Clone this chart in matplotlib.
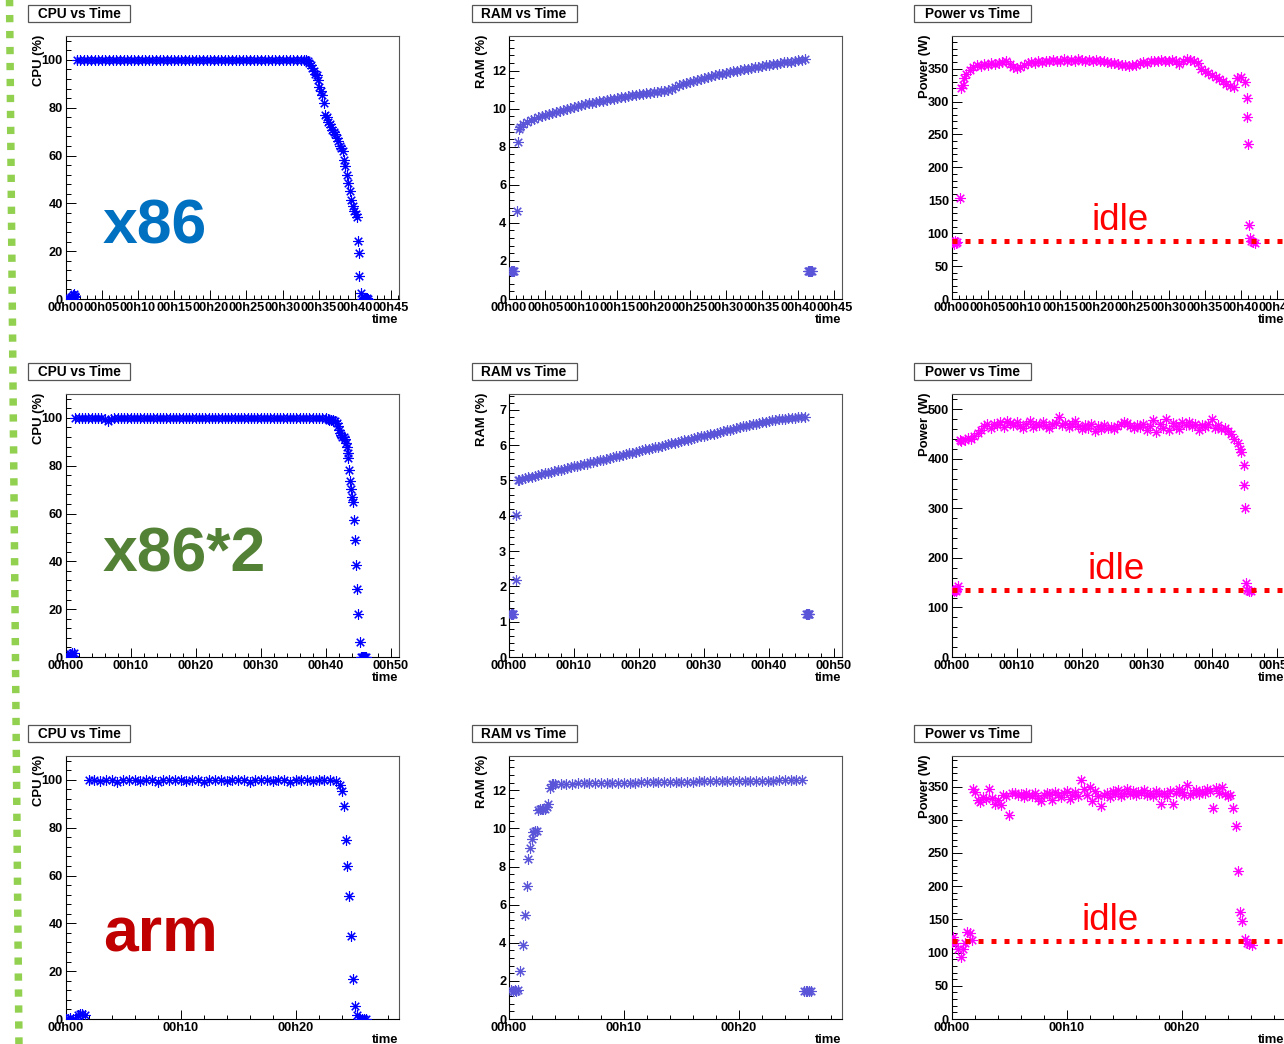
import numpy as np
import matplotlib.pyplot as plt
from matplotlib.ticker import MultipleLocator, FuncFormatter
from matplotlib.patches import Rectangle
from matplotlib.lines import Line2D

plt.rcParams['font.family'] = ['Liberation Sans', 'DejaVu Sans']
plt.rcParams['font.weight'] = 'bold'

W, H = 1284, 1044

# ---------------- x86 ----------------
cpu_x86_start = [(0.3, 0.0), (0.45, 0.5), (0.6, 0.0), (0.75, 1.0), (0.9, 0.4),
                 (1.0, 1.6), (1.1, 0.8), (1.2, 2.0), (1.3, 1.2)]
cpu_x86_load = [100, 100, 100, 100, 100, 100, 100, 100, 100, 100, 100, 100, 100, 100, 100, 100,
                100, 100, 100, 100, 100, 100, 100, 100, 100, 100, 100, 100, 100, 100, 100, 100,
                100, 100, 100, 100, 100, 100, 100, 100, 100, 100, 100, 100, 100, 100, 100, 100,
                100, 100, 100, 100, 100, 100, 100, 100, 100, 100, 100, 100, 100, 100, 100, 100]
cpu_x86_drop = [(33.3, 100), (33.5, 99.5), (33.7, 98.7), (33.9, 97.8), (34.1, 96.8),
                (34.3, 95.5), (34.5, 94.2), (34.7, 93.5), (34.9, 91.5), (35.1, 88.5),
                (35.3, 87), (35.5, 85.5), (35.7, 82), (35.9, 77), (36.1, 76),
                (36.3, 74), (36.5, 73), (36.7, 72), (36.9, 70.5), (37.1, 70),
                (37.3, 69), (37.5, 67.5), (37.7, 66), (37.9, 64), (38.1, 63),
                (38.3, 62), (38.5, 58), (38.7, 55.5), (38.9, 52), (39.1, 48.5),
                (39.3, 45), (39.5, 41.5), (39.7, 39), (39.9, 37), (40.1, 35.5),
                (40.25, 34.5), (40.4, 24.4), (40.5, 19.1), (40.6, 9.5), (40.9, 2.4)]
cpu_x86_tail = [(41.05, 0.0), (41.2, 0.4), (41.35, 0.0), (41.5, 0.0), (41.65, 0.3), (41.8, 0.0)]

ram_x86_start = [(0.3, 1.45), (0.4, 1.45), (0.5, 1.45), (0.6, 1.45), (0.7, 1.45),
                 (1.1, 4.6), (1.2, 8.25), (1.35, 8.95)]
ram_x86_load = [9.05, 9.2, 9.3, 9.4, 9.48, 9.55, 9.62, 9.68, 9.73, 9.79,
                9.84, 9.9, 9.95, 10.0, 10.06, 10.1, 10.15, 10.2, 10.24, 10.28,
                10.32, 10.35, 10.38, 10.42, 10.45, 10.49, 10.53, 10.57, 10.61, 10.64,
                10.67, 10.7, 10.73, 10.76, 10.79, 10.82, 10.85, 10.87, 10.9, 10.92,
                10.95, 10.98, 11.03, 11.12, 11.22, 11.28, 11.35, 11.41, 11.46, 11.51,
                11.56, 11.61, 11.66, 11.7, 11.75, 11.8, 11.84, 11.88, 11.92, 11.96,
                12.0, 12.03, 12.07, 12.1, 12.14, 12.18, 12.21, 12.25, 12.28, 12.31,
                12.34, 12.37, 12.4, 12.43, 12.45, 12.48, 12.51, 12.54, 12.57, 12.6]
ram_x86_tail = [(41.35, 1.45), (41.45, 1.45), (41.55, 1.45), (41.65, 1.45), (41.75, 1.45), (41.85, 1.45)]

pwr_x86_start = [(0.15, 86), (0.3, 84), (0.45, 88), (0.6, 85), (0.8, 87),
                 (1.15, 154), (1.3, 321), (1.5, 325), (1.75, 336)]
pwr_x86_load = [342, 348, 353, 355, 354, 357, 355, 358, 357, 359,
                360, 362, 357, 352, 351, 353, 356, 359, 360, 358,
                361, 360, 362, 361, 363, 361, 362, 364, 362, 363,
                362, 364, 363, 362, 363, 361, 363, 362, 361, 360,
                358, 359, 357, 355, 356, 354, 356, 355, 358, 360,
                359, 361, 362, 361, 363, 362, 361, 363, 362, 357,
                362, 364, 363, 361, 358, 350, 347, 343, 340, 337,
                334, 331, 327, 324, 322, 336, 337, 329]
pwr_x86_drop = [(40.8, 306), (40.9, 276), (41.0, 235), (41.1, 113), (41.25, 92),
                (41.45, 88), (41.7, 86), (42.0, 85)]
idle_x86 = 88

# ---------------- x86*2 ----------------
cpu_x2_start = [(0.2, 0.0), (0.35, 0.5), (0.5, 0.0), (0.65, 1.2), (0.8, 0.4),
                (0.95, 1.8), (1.1, 0.6), (1.25, 1.5)]
cpu_x2_load = [100, 100, 100, 100, 100, 100, 100, 100, 100, 99.6, 98.8, 99.4, 100,
               100, 100, 100, 100, 100, 100, 100, 100, 100, 100, 100, 100, 100,
               100, 100, 100, 100, 100, 100, 100, 100, 100, 100, 100, 100, 100,
               100, 100, 100, 100, 100, 100, 100, 100, 100, 100, 100, 100, 100,
               100, 100, 100, 100, 100, 100, 100, 100, 100, 100, 100, 100, 100,
               100, 100, 100, 100, 100, 100, 100, 100, 100, 100, 100, 100, 100]
cpu_x2_drop = [(40.3, 99.6), (40.6, 99.3), (40.9, 99.2), (41.2, 99), (41.5, 98.5),
               (41.7, 98), (41.9, 96.5), (42.0, 95), (42.2, 93.8), (42.4, 93),
               (42.6, 92.2), (42.8, 92), (43.0, 91), (43.15, 89.5), (43.3, 88),
               (43.4, 85.5), (43.5, 83.3), (43.65, 78.4), (43.8, 73.5), (43.95, 70.3),
               (44.1, 67), (44.2, 65), (44.4, 57.1), (44.6, 49), (44.75, 38.5),
               (44.9, 28.3), (45.05, 17.9), (45.25, 6.3)]
cpu_x2_tail = [(45.5, 0.0), (45.65, 0.0), (45.8, 0.0), (45.95, 0.0), (46.1, 0.0), (46.25, 0.0)]

ram_x2_start = [(0.25, 1.21), (0.35, 1.21), (0.45, 1.21), (0.55, 1.21), (0.65, 1.21),
                (1.05, 2.18), (1.15, 4.03), (1.35, 5.0)]
ram_x2_load = [5.02, 5.05, 5.07, 5.09, 5.11, 5.14, 5.16, 5.18, 5.2, 5.22,
               5.24, 5.27, 5.29, 5.31, 5.33, 5.35, 5.38, 5.4, 5.42, 5.44,
               5.46, 5.48, 5.51, 5.53, 5.55, 5.57, 5.59, 5.61, 5.64, 5.66,
               5.68, 5.7, 5.72, 5.74, 5.77, 5.79, 5.81, 5.83, 5.85, 5.88,
               5.9, 5.92, 5.94, 5.96, 5.98, 6.01, 6.03, 6.05, 6.07, 6.09,
               6.11, 6.14, 6.16, 6.18, 6.2, 6.22, 6.25, 6.27, 6.29, 6.31,
               6.33, 6.35, 6.38, 6.4, 6.42, 6.44, 6.46, 6.48, 6.51, 6.53,
               6.55, 6.57, 6.59, 6.61, 6.63, 6.65, 6.67, 6.69, 6.7, 6.72,
               6.73, 6.74, 6.75, 6.76, 6.77, 6.78, 6.79, 6.8, 6.81]
ram_x2_tail = [(45.75, 1.21), (45.85, 1.21), (45.95, 1.21), (46.05, 1.21), (46.15, 1.21), (46.25, 1.21)]

pwr_x2_start = [(0.15, 135), (0.3, 133), (0.45, 136), (0.6, 134), (0.8, 137),
                (1.0, 144), (1.25, 438)]
pwr_x2_load = [436, 438, 442, 440, 447, 452, 458, 466, 470, 462,
               471, 468, 474, 465, 476, 472, 469, 475, 467, 462,
               470, 476, 465, 471, 468, 474, 466, 463, 470, 473,
               484, 468, 472, 465, 470, 477, 466, 460, 468, 463,
               471, 456, 466, 461, 468, 462, 465, 460, 467, 470,
               474, 472, 466, 462, 469, 464, 471, 458, 467, 478,
               455, 470, 463, 481, 458, 472, 466, 460, 474, 469,
               475, 467, 471, 459, 468, 464, 470, 481, 462, 468,
               460, 463, 457, 450, 440, 432]
pwr_x2_drop = [(44.35, 419), (44.6, 414), (44.95, 388), (45.05, 348), (45.15, 300),
               (45.3, 150), (45.45, 135), (45.7, 134), (46.0, 133)]
idle_x2 = 135

# ---------------- arm ----------------
cpu_arm_start = [(0.0, 0.0), (0.2, 0.0), (0.4, 0.3), (0.6, 0.0), (0.8, 0.0),
                 (1.05, 1.8), (1.25, 2.0), (1.45, 2.0), (1.65, 1.8)]
cpu_arm_load = [100, 100, 99.4, 100, 100, 99.2, 100, 100, 100, 99.5, 100,
                100, 99.3, 100, 100, 100, 100, 99.4, 100, 100, 99.2, 100,
                100, 100, 99.5, 100, 100, 100, 99.3, 100, 100, 100, 99.4,
                100, 100, 99.2, 100, 100, 100, 99.4, 100, 100, 100, 99.5]
cpu_arm_drop = [(23.85, 98.0), (24.06, 95.3), (24.2, 89.0), (24.35, 75.0), (24.5, 63.8),
                (24.67, 51.3), (24.8, 34.8), (25.0, 16.6), (25.2, 5.4), (25.36, 1.7)]
cpu_arm_tail = [(25.5, 0.0), (25.65, 0.0), (25.8, 0.0), (25.95, 0.0), (26.1, 0.0)]

ram_arm_start = [(0.2, 1.5), (0.35, 1.48), (0.5, 1.5), (0.65, 1.47), (0.8, 1.5),
                 (0.95, 2.53), (1.24, 3.88), (1.39, 5.45), (1.53, 6.99), (1.68, 8.38),
                 (1.82, 8.98), (1.97, 9.43), (2.1, 9.8), (2.25, 9.87), (2.4, 9.85),
                 (2.54, 10.99), (2.69, 11.04), (2.84, 11.0), (2.98, 11.02), (3.12, 11.04),
                 (3.27, 11.1), (3.41, 11.27), (3.55, 12.14), (3.7, 12.31), (3.85, 12.33)]
ram_arm_load = [12.33, 12.34, 12.33, 12.35, 12.36, 12.36, 12.37, 12.37, 12.38, 12.38,
                12.38, 12.39, 12.39, 12.4, 12.4, 12.42, 12.43, 12.43, 12.44, 12.44,
                12.45, 12.45, 12.45, 12.46, 12.46, 12.47, 12.48, 12.49, 12.49, 12.5,
                12.5, 12.5, 12.5, 12.5, 12.5, 12.51, 12.51, 12.51, 12.51, 12.52,
                12.55, 12.56, 12.55, 12.53]
ram_arm_tail = [(25.65, 1.48), (25.8, 1.48), (25.95, 1.48), (26.1, 1.48), (26.25, 1.48)]

pwr_arm_start = [(0.05, 116), (0.15, 124), (0.3, 114), (0.55, 106), (0.85, 93),
                 (1.0, 106), (1.2, 115), (1.35, 131), (1.55, 129), (1.75, 119), (1.87, 346)]
pwr_arm_load = [342, 329, 326, 335, 331, 346, 333, 324, 329, 322,
                338, 336, 307, 340, 341, 337, 339, 335, 340, 338,
                336, 341, 333, 328, 337, 341, 339, 330, 342, 337,
                335, 340, 344, 331, 338, 342, 336, 360, 347, 338,
                349, 328, 344, 336, 321, 338, 341, 335, 343, 339,
                345, 336, 341, 347, 339, 343, 337, 342, 340, 345,
                338, 341, 336, 343, 339, 324, 341, 336, 344, 324,
                340, 346, 342, 338, 352, 337, 341, 345, 339, 343,
                341, 347, 344, 317, 348, 340, 350, 339, 336, 337,
                317, 290]
pwr_arm_drop = [(24.9, 223), (25.07, 161), (25.3, 148), (25.5, 121), (25.7, 115),
                (25.9, 113), (26.1, 112)]
idle_arm = 118


def series(start, t0, step, load, end):
    pts = list(start) + [(t0 + step * i, v) for i, v in enumerate(load)] + list(end)
    return np.array(pts, dtype=float)


cpu = [series(cpu_x86_start, 1.5, 0.5, cpu_x86_load, cpu_x86_drop + cpu_x86_tail),
       series(cpu_x2_start, 1.5, 0.5, cpu_x2_load, cpu_x2_drop + cpu_x2_tail),
       series(cpu_arm_start, 2.0, 0.5, cpu_arm_load, cpu_arm_drop + cpu_arm_tail)]
ram = [series(ram_x86_start, 1.5, 0.5, ram_x86_load, ram_x86_tail),
       series(ram_x2_start, 1.5, 0.5, ram_x2_load, ram_x2_tail),
       series(ram_arm_start, 4.0, 0.5, ram_arm_load, ram_arm_tail)]
pwr = [series(pwr_x86_start, 2.0, 0.5, pwr_x86_load, pwr_x86_drop),
       series(pwr_x2_start, 1.5, 0.5, pwr_x2_load, pwr_x2_drop),
       series(pwr_arm_start, 2.0, 0.25, pwr_arm_load, pwr_arm_drop)]
idle = [idle_x86, idle_x2, idle_arm]

machines = ['x86', 'x86*2', 'arm']
machine_colors = ['#0070c0', '#538135', '#c00000']
machine_base = [243, 572, 952]

# per row: x range, x major / minor step
xaxes = [(46.1, 5, 1), (51.3, 10, 2), (29.0, 10, 2)]
# per row and column: ymax, major, minor
yaxes = [[(110, 20, 4), (13.82, 2, 0.4), (399.5, 50, 10)],
         [(110, 20, 4), (7.45, 1, 0.2), (531, 100, 20)],
         [(110, 20, 4), (13.8, 2, 0.4), (396, 50, 10)]]

col_left = [65.7, 509.0, 951.7]
row_top = [36.0, 394.0, 756.0]
ax_w, ax_h = 333.3, 263.0
titles = ['CPU vs Time', 'RAM vs Time', 'Power vs Time']
box_w = [102.0, 105.0, 116.4]
ylabels = ['CPU (%)', 'RAM (%)', 'Power (W)']
colors = ['#0000ff', '#5954d8', '#ff00ff']
idle_left = [1091, 1087, 1082]
idle_base = [230, 579, 930]

fig = plt.figure(figsize=(W / 100, H / 100), dpi=100)


def fx(x):
    return x / W


def fy(y):
    return 1 - y / H


time_fmt = FuncFormatter(lambda v, p: '00h%02d' % int(round(v)))

for r in range(3):
    xmax, xmaj, xmin = xaxes[r]
    data = [cpu[r], ram[r], pwr[r]]
    for c in range(3):
        left, top = col_left[c], row_top[r]
        ax = fig.add_axes([fx(left), fy(top + ax_h), ax_w / W, ax_h / H])
        pts = data[c]
        ax.plot(pts[:, 0], pts[:, 1], ls='none', marker=(8, 2, 0), ms=7.5,
                mew=0.8, color=colors[c], zorder=3)
        ymax, ymaj, ymin = yaxes[r][c]
        ax.set_xlim(0, xmax)
        ax.set_ylim(0, ymax)
        ax.xaxis.set_major_locator(MultipleLocator(xmaj))
        ax.xaxis.set_minor_locator(MultipleLocator(xmin))
        ax.xaxis.set_major_formatter(time_fmt)
        ax.yaxis.set_major_locator(MultipleLocator(ymaj))
        ax.yaxis.set_minor_locator(MultipleLocator(ymin))
        ax.tick_params(which='both', direction='in', top=False, right=False,
                       width=0.7, labelsize=9.2, pad=2)
        ax.tick_params(axis='y', which='major', length=7.2)
        ax.tick_params(axis='y', which='minor', length=3.6)
        ax.tick_params(axis='x', which='major', length=6.5)
        ax.tick_params(axis='x', which='minor', length=3.2)
        for side in ['left', 'bottom']:
            ax.spines[side].set_linewidth(0.8)
            ax.spines[side].set_color('black')
        for side in ['top', 'right']:
            ax.spines[side].set_linewidth(0.8)
            ax.spines[side].set_color('#555555')

        # title box
        bx, by = left - 37.4, top - 31
        fig.patches.append(Rectangle((fx(bx), fy(by + 17)), box_w[c] / W, 17 / H,
                                     transform=fig.transFigure, facecolor='white',
                                     edgecolor='#555555', lw=0.9))
        fig.text(fx(bx + box_w[c] / 2), fy(by + 8.8), titles[c], ha='center',
                 va='center', fontsize=9.8)
        fig.text(fx(left - 26.5), fy(top - 1), ylabels[c], rotation=90,
                 ha='center', va='top', fontsize=9.4)
        fig.text(fx(left + ax_w - 1), fy(top + ax_h + 15), 'time', ha='right',
                 va='top', fontsize=9.4)

        if c == 2:
            ax.axhline(idle[r], color='red', lw=3.6, dashes=(1, 1.6),
                       dash_capstyle='butt', zorder=4)
            fig.text(fx(idle_left[r]), fy(idle_base[r]), 'idle', color='red',
                     fontsize=26.5, fontweight='normal', va='baseline')

    fig.text(fx(103), fy(machine_base[r]), machines[r], color=machine_colors[r],
             fontsize=45, fontweight='bold', va='baseline')

# dotted separator on the left edge
fig.lines.append(Line2D([fx(9.5), fx(19.0)], [fy(-4), fy(1048)], transform=fig.transFigure,
                        color='#92d050', lw=5.4, dashes=(0.97, 1.16),
                        dash_capstyle='butt'))

fig.savefig('out.png', dpi=100)
